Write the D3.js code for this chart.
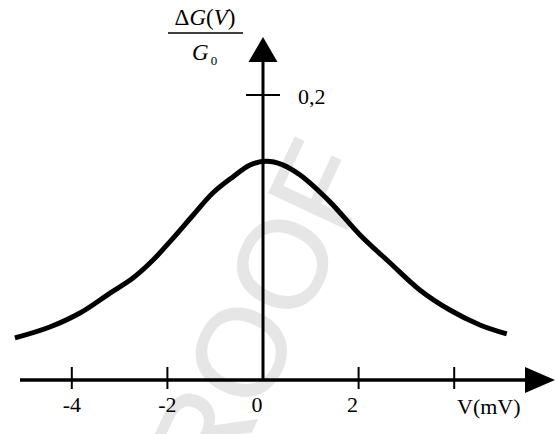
<!DOCTYPE html>
<html>
<head>
<meta charset="utf-8">
<script src="https://cdn.jsdelivr.net/npm/d3@7"></script>
<style>
  body { margin: 0; background: #fff; }
  svg { display: block; }
</style>
</head>
<body>
<script>
// values
const voltage = [-5.19, -4.46, -3.83, -3.2, -2.72, -2.3, -1.88, -1.46, -1.05, -0.63, -0.27, 0.07, 0.4, 0.77, 1.4, 2.03, 2.66, 3.28, 3.91, 4.54, 5.1]
const deltaG = [0.0295, 0.0372, 0.047, 0.061, 0.0716, 0.0842, 0.0996, 0.1158, 0.1312, 0.1425, 0.1509, 0.1535, 0.1512, 0.144, 0.125, 0.1018, 0.0821, 0.0632, 0.0491, 0.0386, 0.0323]
const xTicks = [-4, -2, 0, 2, 4]
const xTickLabels = ["-4", "-2", "0", "2", ""]
const yTicks = [0.2]
const yTickLabels = ["0,2"]

const width = 558
const height = 434
const serif = "'Liberation Serif', 'Times New Roman', serif"

const x = d3.scaleLinear().domain([-4, 4]).range([71.8, 454.2])
const y = d3.scaleLinear().domain([0, 0.2]).range([380, 95])

const svg = d3.select("body")
    .append("svg")
    .attr("width", width)
    .attr("height", height)
    .attr("viewBox", [0, 0, width, height])

// watermark: anchor sits on the first O
svg.append("text")
    .attr("transform", `translate(241,352) rotate(-64.8)`)
    .attr("text-anchor", "middle")
    .attr("dominant-baseline", "central")
    .style("font-family", "'Liberation Sans', Arial, sans-serif")
    .style("font-size", "125px")
    .attr("fill", "#e6e6e6")
    .attr("stroke", "#e6e6e6")
    .attr("stroke-width", 1.2)
    .text("PROOF")

// curve
const pts = voltage.map((v, i) => [v, deltaG[i]])
svg.append("path")
    .datum(pts)
    .attr("fill", "none")
    .attr("stroke", "#000")
    .attr("stroke-width", 5)
    .attr("d", d3.line().x(d => x(d[0])).y(d => y(d[1])).curve(d3.curveCatmullRom))

const x0 = x(0)
const y0 = y(0)

// x axis
svg.append("line").attr("x1", 20).attr("x2", 530).attr("y1", y0).attr("y2", y0)
    .attr("stroke", "#000").attr("stroke-width", 3.5)
svg.append("path").attr("d", `M525,${y0 - 13}L555,${y0}L525,${y0 + 13}Z`).attr("fill", "#000")

svg.selectAll(".xtick")
    .data(xTicks.filter(t => t !== 0))
    .enter()
    .append("line")
    .attr("x1", t => x(t)).attr("x2", t => x(t))
    .attr("y1", y0 - 13).attr("y2", y0 + 9)
    .attr("stroke", "#000").attr("stroke-width", 2)

svg.selectAll(".xlabel")
    .data(xTicks)
    .enter()
    .append("text")
    .attr("x", t => x(t) + (t >= 0 ? -6 : 0))
    .attr("y", 412)
    .attr("text-anchor", "middle")
    .style("font-family", serif)
    .style("font-size", "22px")
    .text((t, i) => xTickLabels[i])

svg.append("text").attr("x", 457).attr("y", 414)
    .style("font-family", serif).style("font-size", "22px")
    .text("V(mV)")

// y axis
svg.append("line").attr("x1", x0).attr("x2", x0).attr("y1", y0).attr("y2", 58)
    .attr("stroke", "#000").attr("stroke-width", 3)
svg.append("path").attr("d", `M${x0 - 14.5},62L${x0},37L${x0 + 14.5},62Z`).attr("fill", "#000")

svg.selectAll(".ytick")
    .data(yTicks)
    .enter()
    .append("line")
    .attr("x1", x0 - 17).attr("x2", x0 + 17)
    .attr("y1", t => y(t)).attr("y2", t => y(t))
    .attr("stroke", "#000").attr("stroke-width", 2)

svg.selectAll(".ylabel")
    .data(yTicks)
    .enter()
    .append("text")
    .attr("x", 298)
    .attr("y", t => y(t) + 9)
    .style("font-family", serif)
    .style("font-size", "22px")
    .text((t, i) => yTickLabels[i])

// y axis title as a fraction
const num = svg.append("text").attr("x", 205).attr("y", 25).attr("text-anchor", "middle")
    .style("font-family", serif).style("font-size", "23px")
num.append("tspan").text("Δ")
num.append("tspan").style("font-style", "italic").text("G")
num.append("tspan").text("(")
num.append("tspan").style("font-style", "italic").text("V")
num.append("tspan").text(")")

svg.append("line").attr("x1", 168).attr("x2", 243).attr("y1", 33).attr("y2", 33)
    .attr("stroke", "#000").attr("stroke-width", 1.5)

const den = svg.append("text").attr("x", 192).attr("y", 60)
    .style("font-family", serif).style("font-size", "23px")
den.append("tspan").style("font-style", "italic").text("G")
den.append("tspan").attr("dy", 5).attr("dx", 2).style("font-size", "13px").text("0")
</script>
</body>
</html>
